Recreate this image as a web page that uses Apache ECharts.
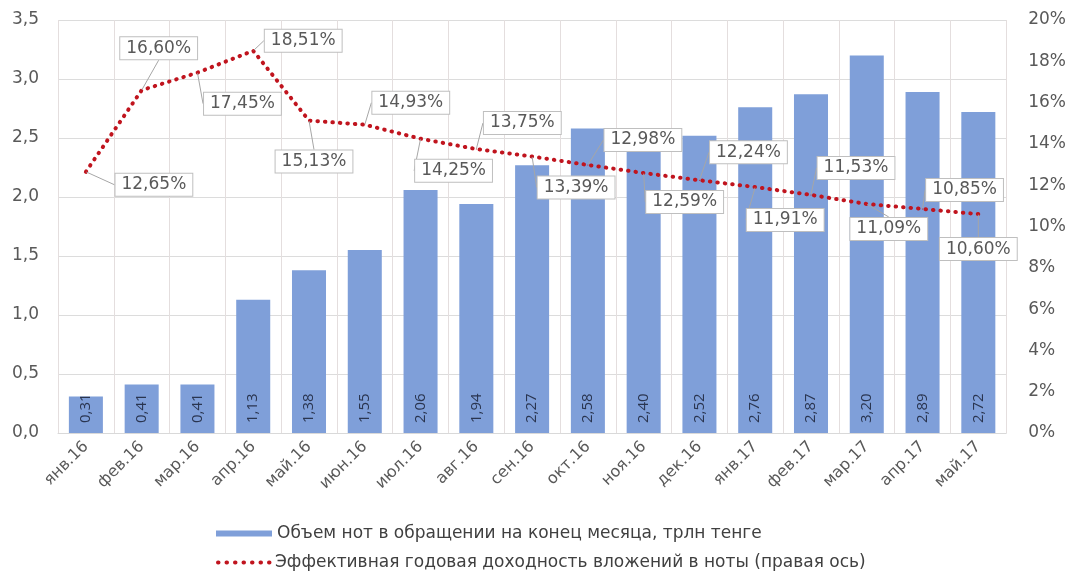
<!DOCTYPE html>
<html><head><meta charset="utf-8">
<script src="https://cdn.jsdelivr.net/npm/echarts@6/dist/echarts.min.js"></script>
<style>html,body{margin:0;padding:0;background:#fff}#c{width:1069px;height:571px}</style>
</head><body><div id="c"></div>
<script>
var categories = ['янв.16','фев.16','мар.16','апр.16','май.16','июн.16','июл.16','авг.16','сен.16','окт.16','ноя.16','дек.16','янв.17','фев.17','мар.17','апр.17','май.17'];
var volumeValues = [0.31,0.41,0.41,1.13,1.38,1.55,2.06,1.94,2.27,2.58,2.40,2.52,2.76,2.87,3.20,2.89,2.72];
var yieldValues = [12.65,16.60,17.45,18.51,15.13,14.93,14.25,13.75,13.39,12.98,12.59,12.24,11.91,11.53,11.09,10.85,10.60];
var seriesNames = ['Объем нот в обращении на конец месяца, трлн тенге','Эффективная годовая доходность вложений в ноты (правая ось)'];
// label callout offsets (layout only)
var labelOffsets = [[68,13],[17,-42],[45,31],[50,-10],[5,41],[46,-22],[33,32],[46,-26],[44,31],[55,-25],[41,29],[49,-28],[30,33],[45,-27],[22,25],[42,-19],[0,35]];

var FONT = 'DejaVu Sans';
var fmt = function(v, d){ return v.toFixed(d).replace('.', ','); };
var chart = echarts.init(document.getElementById('c'));
var legendText = {color:'#404040',fontSize:17,fontFamily:FONT};
chart.setOption({
  animation:false,
  grid:{left:58,right:61,top:20,bottom:138},
  legend:[{
    left:211, top:520, itemWidth:56, itemHeight:6, itemGap:4, textStyle:legendText,
    data:[{name:seriesNames[0],icon:'rect'}]
  },{
    left:211, top:549, itemWidth:52, itemHeight:6, textStyle:legendText,
    lineStyle:{width:4,type:[0.5,8],cap:'round'},
    data:[{name:seriesNames[1],itemStyle:{opacity:0}}]
  }],
  xAxis:{
    type:'category', data:categories,
    axisLine:{lineStyle:{color:'#d9d9d9'}},
    axisTick:{show:false},
    splitLine:{show:true,lineStyle:{color:'#e4dede'}},
    axisLabel:{rotate:45,color:'#595959',fontSize:16,fontFamily:FONT,margin:11,interval:0}
  },
  yAxis:[{
    type:'value', min:0, max:3.5, interval:0.5,
    axisLabel:{color:'#595959',fontSize:17,fontFamily:FONT,margin:19,formatter:function(v){return fmt(v,1);}},
    splitLine:{lineStyle:{color:'#dcdcdc'}},
    axisLine:{show:false},axisTick:{show:false}
  },{
    type:'value', min:0, max:20, interval:2,
    axisLabel:{color:'#595959',fontSize:17,fontFamily:FONT,margin:22,formatter:'{value}%'},
    splitLine:{show:false},axisLine:{show:false},axisTick:{show:false}
  }],
  series:[{
    name:seriesNames[0], type:'bar', data:volumeValues, barWidth:'61%',
    itemStyle:{color:'#7f9fd9'},
    label:{show:true,position:'insideBottom',rotate:90,align:'left',verticalAlign:'middle',distance:10,
      color:'#2a3550',fontSize:15,fontFamily:'Liberation Sans Narrow, Open Sans',formatter:function(p){return fmt(p.value,2);}}
  },{
    name:seriesNames[1], type:'line', yAxisIndex:1, data:yieldValues, z:5,
    symbol:'circle', symbolSize:1, showSymbol:true,
    itemStyle:{color:'#c0141e'},
    lineStyle:{color:'#c0141e',width:4,type:[0.5,7],cap:'round'},
    label:{show:true,position:'inside',color:'#595959',fontSize:17,fontFamily:FONT,
      backgroundColor:'#fff',borderColor:'#bfbfbf',borderWidth:1,padding:[3,6,2,6],
      formatter:function(p){return fmt(p.value,2)+'%';}},
    labelLine:{show:true,lineStyle:{color:'#a6a6a6',width:1}},
    labelLayout:function(p){var o=labelOffsets[p.dataIndex];return {dx:o[0],dy:o[1]};}
  }]
});
</script></body></html>
